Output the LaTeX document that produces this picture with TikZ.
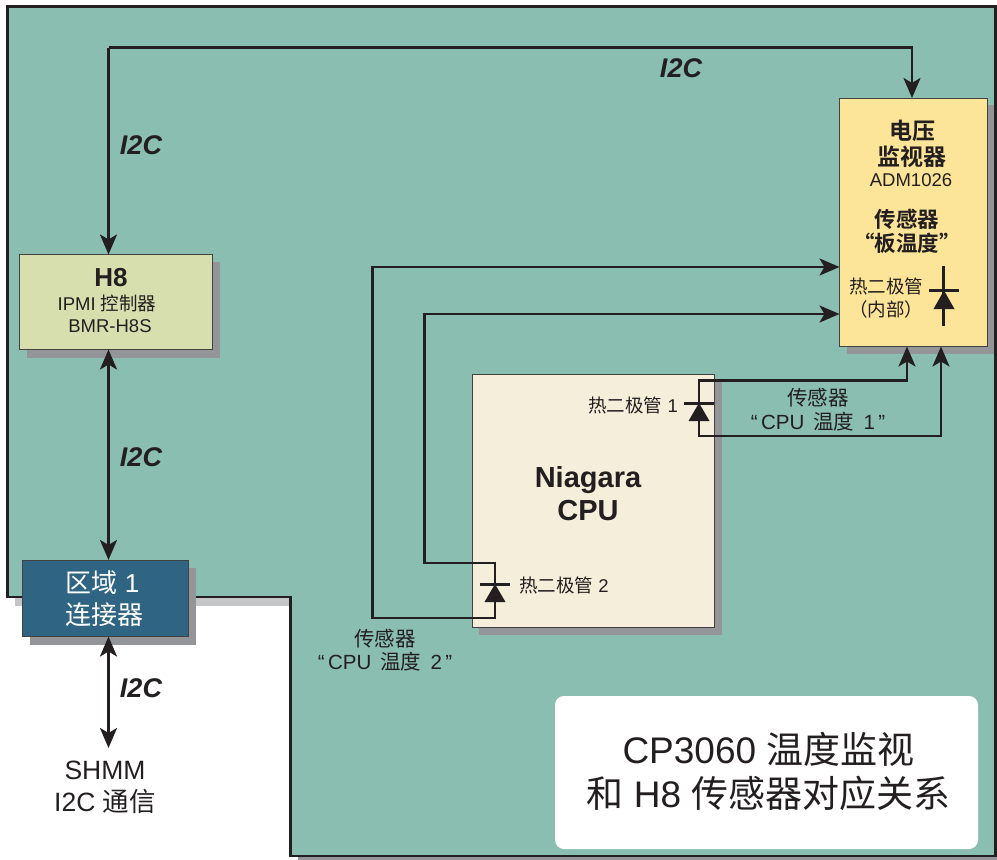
\documentclass[tikz,border=0pt]{standalone}
\usepackage{fontspec}
\setmainfont{Liberation Sans}
\newfontfamily\cjk{Noto Sans CJK SC}
\newfontfamily\cjkb{Noto Sans CJK SC Bold}
\usetikzlibrary{arrows.meta}
\definecolor{board}{HTML}{8ABEB0}
\definecolor{ink}{HTML}{231F20}
\definecolor{greyshadow}{HTML}{939598}
\definecolor{paleshadow}{HTML}{C4C6C8}
\definecolor{hbox}{HTML}{D8DFAF}
\definecolor{vbox}{HTML}{FCE498}
\definecolor{cbox}{HTML}{F5EEDA}
\definecolor{zbox}{HTML}{2F6482}
\tikzset{
  x=1pt,y=-1pt,
  wire/.style={draw=ink,line width=2.7pt},
  arr/.style={wire,-{Stealth[length=20pt,width=17pt,inset=5pt]}},
  barr/.style={wire,{Stealth[length=20pt,width=17pt,inset=5pt]}-{Stealth[length=20pt,width=17pt,inset=5pt]}},
  box/.style={draw=ink!85,line width=1pt,anchor=north west,inner sep=0pt,outer sep=0pt},
  txt/.style={text=ink,align=center,inner sep=0pt},
  itl/.style={txt,font=\fontsize{27}{27}\selectfont\bfseries\itshape},
  lbl/.style={txt,font=\fontsize{18.5}{23}\selectfont},
  senslbl/.style={txt,font=\fontsize{20.5}{23.5}\selectfont},
  cath/.style={draw=ink,line width=3pt},
  tri/.style={fill=ink,draw=none},
}
\begin{document}
\begin{tikzpicture}
\useasboundingbox (0,0) rectangle (997,860);
% board
\fill[paleshadow] (15,598) rectangle (298,606);
\fill[greyshadow] (298,856) rectangle (997,860);
\filldraw[fill=board,draw=ink,line width=2.6pt] (995.5,6.5) -- (7.5,6.5) -- (7.5,597) -- (290.5,597) -- (290.5,856) -- (995.5,856) -- cycle;
% shadows
\fill[greyshadow] (26.5,261.5) rectangle (219.5,357.5);
\fill[greyshadow] (846.5,105) rectangle (994,353.5);
\fill[greyshadow] (479,381) rectangle (721.5,635);
\fill[greyshadow] (30,568) rectangle (196,644.5);
% boxes
\node[box,fill=hbox,minimum width=193pt,minimum height=95pt] (h8) at (19.5,254.5) {};
\node[box,fill=vbox,minimum width=148pt,minimum height=248pt] (vm) at (839.5,98) {};
\node[box,fill=cbox,minimum width=242pt,minimum height=253pt] (cpu) at (472,374) {};
\node[box,fill=zbox,minimum width=166pt,minimum height=76pt] (zone) at (22.5,560.5) {};
\node[fill=white,rounded corners=9pt,minimum width=423pt,minimum height=153pt,inner sep=0pt,outer sep=0pt,anchor=north west] (title) at (555,696) {};
% named points
\coordinate (shmm) at (108.5,748);
\coordinate (t1) at (108.5,47.5);
\coordinate (t2) at (912,47.5);
\coordinate (s2a) at (372.5,267);
\coordinate (s2b) at (372.5,618);
\coordinate (s2c) at (495,618);
\coordinate (d2top) at (495,563);
\coordinate (s3a) at (424.5,314);
\coordinate (s3b) at (424.5,563);
\coordinate (d1top) at (699,380.5);
\coordinate (d1bot) at (699,436);
% connectors
\draw[arr] (t1) -- (t2) -- (t2 |- vm.north);
\draw[arr] (t1) -- (t1 |- h8.north);
\draw[barr] (108.5,349.5) -- (108.5,560);
\draw[barr] (108.5,636.5) -- (shmm);
\draw[arr] (s2c) -- (s2b) -- (s2a) -- (s2a -| vm.west);
\draw[arr] (d2top) -- (s3b) -- (s3a) -- (s3a -| vm.west);
\draw[arr] (d1top) -- (907,380.5) -- (907,346.5);
\draw[arr] (d1bot) -- (941,436) -- (941,346.5);
% diode leads
\draw[wire,line cap=rect] (s2c) -- (d2top);
\draw[wire,line cap=rect] (d1top) -- (d1bot);
\draw[wire,line width=2.2pt] (943.5,266) -- (943.5,326);
% diodes
\draw[cath] (684,403) -- (714,403);
\fill[tri] (699,403) -- (709.5,421) -- (688.5,421) -- cycle;
\draw[cath] (480,584) -- (510,584);
\fill[tri] (495,584) -- (505.5,602) -- (484.5,602) -- cycle;
\draw[cath] (929,290.5) -- (959,290.5);
\fill[tri] (944,290.5) -- (954.5,309) -- (933.5,309) -- cycle;
% text
\node[itl] (l1) at (681,68) {I2C};
\node[itl] (l2) at (141,145) {I2C};
\node[itl] (l3) at (141,457) {I2C};
\node[itl] (l4) at (141,688) {I2C};
\node[txt,font=\fontsize{26}{26}\selectfont\bfseries] (a1) at (111,278) {H8};
\node[lbl] (a2) at (107,303) {IPMI {\cjk 控制器}};
\node[lbl] (a3) at (110,326) {BMR-H8S};
\node[txt,font=\fontsize{23}{26}\selectfont\cjkb] (b1) at (912,144) {电压\\监视器};
\node[lbl] (b2) at (911,180) {ADM1026};
\node[txt,font=\fontsize{21.5}{24}\selectfont\cjkb] (b3) at (907,231) {传感器\\“板温度”};
\node[txt,font=\fontsize{18.5}{23}\selectfont\cjk] (b4) at (886,298.5) {热二极管\\（内部）};
\node[txt,font=\fontsize{29}{33}\selectfont\bfseries] (c1) at (588,494) {Niagara\\CPU};
\node[lbl,anchor=east] (d1) at (678,405) {{\cjk 热二极管} 1};
\node[lbl,anchor=west] (d2) at (519,585) {{\cjk 热二极管} 2};
\node[senslbl] (e1) at (818,409.5) {{\cjk 传感器}\\“\,CPU\, {\cjk 温度}\, 1\,”};
\node[senslbl] (e2) at (385,650) {{\cjk 传感器}\\“\,CPU\, {\cjk 温度}\, 2\,”};
\node[txt,text=white,font=\fontsize{26}{32}\selectfont] (z) at (104,599) {{\cjk 区域} 1\hspace*{3pt}\\{\cjk 连接器}};
\node[txt,font=\fontsize{26.5}{32}\selectfont] (s) at (105,787) {SHMM\\I2C {\cjk 通信}};
\node[txt,font=\fontsize{37}{44}\selectfont] (t) at (768.5,771) {CP3060 {\cjk 温度监视}\\{\cjk 和} H8 {\cjk 传感器对应关系}};
\end{tikzpicture}
\end{document}
